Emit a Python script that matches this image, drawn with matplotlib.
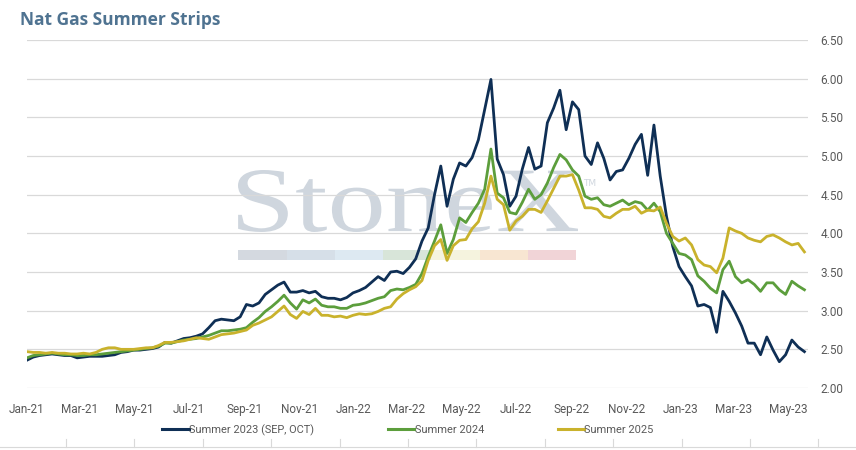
import matplotlib
matplotlib.use("Agg")
import matplotlib.pyplot as plt
import matplotlib.dates as mdates
from matplotlib import font_manager
from matplotlib.font_manager import FontProperties
from matplotlib.patches import Rectangle, PathPatch
from matplotlib.textpath import TextPath
from matplotlib.transforms import Affine2D
from matplotlib.lines import Line2D
import pandas as pd

# ---------------- data (weekly readings) ----------------
start_date = "2021-01-01"
n_weeks = 125

summer_2023 = [2.36, 2.40, 2.42, 2.43, 2.44, 2.43, 2.42, 2.42, 2.39, 2.40,
               2.41, 2.41, 2.41, 2.42, 2.43, 2.46, 2.47, 2.49, 2.49, 2.50,
               2.51, 2.53, 2.59, 2.58, 2.61, 2.64, 2.65, 2.67, 2.70, 2.78,
               2.87, 2.89, 2.88, 2.87, 2.92, 3.08, 3.06, 3.10, 3.21, 3.27,
               3.33, 3.37, 3.24, 3.24, 3.26, 3.23, 3.25, 3.18, 3.16, 3.16,
               3.14, 3.17, 3.23, 3.26, 3.30, 3.37, 3.44, 3.39, 3.50, 3.51,
               3.48, 3.56, 3.67, 3.90, 4.07, 4.50, 4.87, 4.35, 4.70, 4.91,
               4.87, 4.98, 5.21, 5.60, 5.99, 4.96, 4.76, 4.35, 4.48, 4.83,
               5.11, 4.83, 4.87, 5.43, 5.62, 5.85, 5.34, 5.70, 5.60, 5.00,
               4.89, 5.17, 4.97, 4.69, 4.80, 4.82, 4.97, 5.15, 5.28, 4.75,
               5.40, 4.74, 4.22, 3.83, 3.57, 3.44, 3.32, 3.06, 3.08, 3.04,
               2.72, 3.25, 3.12, 2.97, 2.80, 2.58, 2.58, 2.43, 2.66, 2.49,
               2.34, 2.43, 2.62, 2.53, 2.47]

summer_2024 = [2.39, 2.42, 2.43, 2.44, 2.45, 2.44, 2.43, 2.43, 2.42, 2.42,
               2.43, 2.43, 2.44, 2.45, 2.46, 2.47, 2.48, 2.49, 2.50, 2.51,
               2.52, 2.54, 2.58, 2.58, 2.60, 2.62, 2.63, 2.64, 2.66, 2.68,
               2.71, 2.74, 2.74, 2.75, 2.76, 2.78, 2.85, 2.91, 2.99, 3.05,
               3.12, 3.20, 3.10, 3.02, 3.14, 3.10, 3.15, 3.07, 3.05, 3.05,
               3.03, 3.03, 3.07, 3.08, 3.10, 3.13, 3.16, 3.18, 3.26, 3.28,
               3.27, 3.30, 3.34, 3.48, 3.70, 3.90, 4.11, 3.74, 3.92, 4.20,
               4.14, 4.27, 4.39, 4.57, 5.09, 4.52, 4.46, 4.27, 4.25, 4.40,
               4.57, 4.44, 4.50, 4.65, 4.85, 5.02, 4.95, 4.82, 4.74, 4.48,
               4.44, 4.46, 4.37, 4.35, 4.39, 4.43, 4.37, 4.41, 4.39, 4.30,
               4.39, 4.28, 4.00, 3.87, 3.74, 3.72, 3.66, 3.45, 3.38, 3.29,
               3.23, 3.53, 3.64, 3.44, 3.36, 3.40, 3.34, 3.25, 3.36, 3.36,
               3.27, 3.21, 3.38, 3.32, 3.27]

summer_2025 = [2.47, 2.46, 2.46, 2.45, 2.46, 2.45, 2.45, 2.44, 2.44, 2.45,
               2.44, 2.46, 2.50, 2.52, 2.52, 2.50, 2.50, 2.50, 2.51, 2.52,
               2.52, 2.55, 2.59, 2.59, 2.60, 2.61, 2.63, 2.65, 2.64, 2.63,
               2.66, 2.69, 2.70, 2.71, 2.73, 2.75, 2.81, 2.84, 2.88, 2.92,
               2.99, 3.06, 2.95, 2.90, 2.99, 2.95, 3.03, 2.94, 2.94, 2.92,
               2.93, 2.91, 2.94, 2.96, 2.95, 2.96, 2.99, 3.03, 3.05, 3.15,
               3.22, 3.27, 3.31, 3.39, 3.65, 3.84, 3.92, 3.65, 3.84, 3.91,
               3.92, 4.06, 4.15, 4.39, 4.74, 4.44, 4.37, 4.04, 4.16, 4.22,
               4.31, 4.31, 4.27, 4.42, 4.58, 4.74, 4.74, 4.76, 4.56, 4.33,
               4.33, 4.31, 4.22, 4.20, 4.26, 4.31, 4.31, 4.35, 4.26, 4.30,
               4.29, 4.34, 4.13, 3.96, 3.90, 3.94, 3.85, 3.66, 3.59, 3.57,
               3.49, 3.68, 4.07, 4.03, 4.00, 3.94, 3.91, 3.89, 3.96, 3.98,
               3.94, 3.89, 3.85, 3.87, 3.76]

series_names = ["Summer 2023 (SEP, OCT)", "Summer 2024", "Summer 2025"]
series_colors = ["#0f2f55", "#5c9e3c", "#c9b22c"]
y_ticks = [2.0, 2.5, 3.0, 3.5, 4.0, 4.5, 5.0, 5.5, 6.0, 6.5]

dates = pd.date_range(start_date, periods=n_weeks, freq="7D")

# ---------------- fonts ----------------
avail = {f.name for f in font_manager.fontManager.ttflist}
def pick(*names):
    for n in names:
        if n in avail:
            return n
    return "DejaVu Sans"
label_font = pick("Liberation Sans Narrow", "Roboto", "Lato", "DejaVu Sans")
title_font = pick("Open Sans", "Noto Sans", "DejaVu Sans")
serif_font = pick("Liberation Serif", "DejaVu Serif")

W, H = 856, 450
fig = plt.figure(figsize=(W / 100, H / 100), dpi=100)
fig.patch.set_facecolor("white")

def fx(px):
    return px / W
def fy(py):
    return 1 - py / H

ax = fig.add_axes([fx(27), fy(388), fx(808) - fx(27), fy(40) - fy(388)])
ax.set_facecolor("white")

# ---------------- watermark (behind grid and lines) ----------------
tp = TextPath((0, 0), "StoneX", size=100, prop=FontProperties(family=serif_font))
ext = tp.get_extents()
x0p, x1p, ytop, ybot = 238, 578, 170, 232     # pixel box of the logo text
sx = (x1p - x0p) / ext.width
sy = (ybot - ytop) / ext.height
tr = (Affine2D().translate(-ext.x0, -ext.y0).scale(sx / W, sy / H)
      .translate(fx(x0p), fy(ybot)) + fig.transFigure)
ax.add_patch(PathPatch(tp, transform=tr, facecolor="#cfd6de", edgecolor="none",
                       zorder=1, clip_on=False))
ax.text(fx(590), fy(183), "TM", transform=fig.transFigure, family="DejaVu Sans",
        fontsize=6.5, color="#cfd6de", ha="center", va="center", zorder=1)
bar_cols = ["#d4d9e0", "#d6dfe8", "#dde9f2", "#d8e5d9", "#f5f3de", "#f8e6d2", "#f1d4d7"]
seg = 48.3
for i, c in enumerate(bar_cols):
    ax.add_patch(Rectangle((fx(238.3 + i * seg), fy(260)), fx(seg), fy(250) - fy(260),
                           transform=fig.transFigure, facecolor=c,
                           edgecolor="none", zorder=1, clip_on=False))

for vals, name, col in zip([summer_2023, summer_2024, summer_2025], series_names, series_colors):
    ax.plot(dates, vals, color=col, lw=2.0, label=name, zorder=3, solid_joinstyle="round")

ax.set_ylim(2.0, 6.5)
ax.set_yticks(y_ticks)
ax.yaxis.tick_right()
ax.yaxis.set_major_formatter(matplotlib.ticker.FormatStrFormatter("%.2f"))
ax.set_xlim(pd.Timestamp("2021-01-01"), pd.Timestamp("2023-05-23"))
ax.xaxis.set_major_locator(mdates.MonthLocator(bymonth=[1, 3, 5, 7, 9, 11]))
ax.xaxis.set_major_formatter(mdates.DateFormatter("%b-%y"))
ax.tick_params(axis="y", length=0, pad=9, labelsize=8.5, labelcolor="#595959")
ax.tick_params(axis="x", length=0, pad=11, labelsize=8.5, labelcolor="#595959")
for lab in ax.get_xticklabels() + ax.get_yticklabels():
    lab.set_family(label_font)
ax.set_axisbelow(False)
ax.grid(axis="y", color="#d9d9d9", lw=0.9, zorder=2)
for gl in ax.get_ygridlines():
    gl.set_zorder(2)
for s in ax.spines.values():
    s.set_visible(False)

fig.text(fx(20), fy(20), "Nat Gas Summer Strips", family=title_font, fontsize=12.5,
         fontweight="bold", color="#4f7391", ha="left", va="center")

leg = fig.legend(loc="center", bbox_to_anchor=(fx(408), fy(430)), ncol=3, frameon=False,
                 handlelength=2.4, handletextpad=0.05, columnspacing=6.7,
                 prop={"family": label_font, "size": 7.9})
for t in leg.get_texts():
    t.set_color("#595959")
for h in leg.get_lines():
    h.set_linewidth(2.2)

# faint bottom rule
fig.add_artist(Line2D([0, 1], [fy(447), fy(447)], transform=fig.transFigure,
                      color="#d9d9d9", lw=0.8))
for i in range(12):
    xp = 66 + i * 68.4
    fig.add_artist(Line2D([fx(xp), fx(xp)], [fy(447), fy(439)], transform=fig.transFigure,
                          color="#d9d9d9", lw=0.8))

fig.savefig("out.png", dpi=100, facecolor="white")
